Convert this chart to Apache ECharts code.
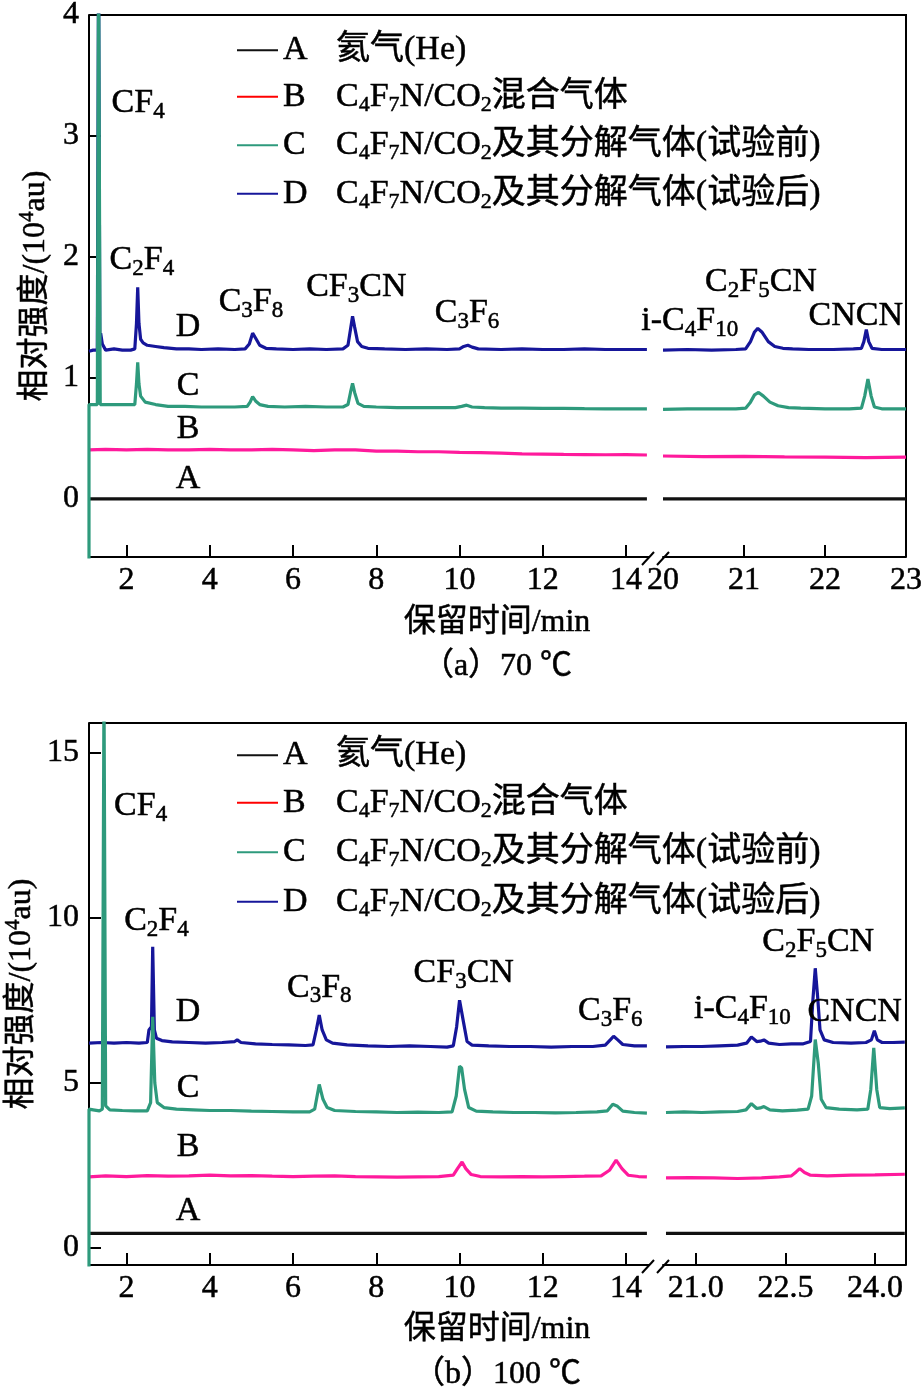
<!DOCTYPE html>
<html>
<head>
<meta charset="utf-8">
<script src="https://cdn.jsdelivr.net/npm/echarts@6/dist/echarts.min.js"></script>
<style>
html,body{margin:0;padding:0;background:#fff;}
#main{width:922px;height:1389px;}
</style>
</head>
<body>
<div id="main"></div>
<script>
var FONT = '"Liberation Serif","Noto Sans CJK SC",serif';

// 图例
var seriesKeys = ['A','B','C','D'];
var seriesTexts = ['氦气(He)','C4F7N/CO2混合气体','C4F7N/CO2及其分解气体(试验前)','C4F7N/CO2及其分解气体(试验后)'];
var seriesColors = ['#111111','#ff1a9c','#2e9a7c','#16169a'];
var legendColors = ['#111111','#ff0000','#2e9a7c','#16169a'];

// 刻度
var xTicksLeft = [2,4,6,8,10,12,14];
var xTicksRightA = [21,22];
var xLabelsRightA = [20,21,22,23];
var xTicksRightB = [21,22.5,24];
var yTicksA = [0,1,2,3,4];
var yTicksB = [0,5,10,15];

// (a) 70 ℃
var aA_left = [[1.1,0],[14.5,0]];
var aA_right = [[20,0],[23,0]];
var aB_left = [[1.1,0.405],[1.5,0.41],[2,0.405],[2.5,0.41],[3,0.405],[3.5,0.405],[4,0.41],[4.5,0.405],[5,0.405],[5.5,0.41],[6,0.405],[6.5,0.4],[7,0.405],[7.5,0.405],[8,0.395],[8.5,0.395],[9,0.39],[9.5,0.39],[10,0.385],[10.5,0.383],[11,0.378],[11.5,0.372],[12,0.37],[12.5,0.368],[13,0.367],[13.5,0.365],[14,0.366],[14.5,0.363]];
var aB_right = [[20,0.355],[20.5,0.35],[21,0.352],[21.5,0.348],[22,0.345],[22.5,0.342],[23,0.345]];
var aC_left = [[1.1,-0.6],[1.1,0.78],[1.2,0.78],[1.3,0.78],[1.33,4.5],[1.37,0.78],[1.5,0.78],[1.8,0.78],[2.1,0.78],[2.2,0.78],[2.24,0.95],[2.27,1.13],[2.3,0.95],[2.34,0.85],[2.45,0.8],[2.7,0.78],[3,0.765],[3.4,0.765],[3.8,0.76],[4.2,0.76],[4.6,0.76],[4.9,0.765],[4.97,0.8],[5.03,0.845],[5.1,0.81],[5.2,0.78],[5.4,0.765],[5.8,0.76],[6.3,0.765],[6.8,0.76],[7.2,0.76],[7.32,0.78],[7.38,0.88],[7.43,0.955],[7.48,0.88],[7.56,0.79],[7.7,0.765],[8,0.76],[8.5,0.755],[9,0.755],[9.5,0.755],[9.9,0.755],[10.05,0.765],[10.17,0.775],[10.3,0.76],[10.6,0.755],[11,0.75],[11.5,0.75],[12,0.748],[12.5,0.748],[13,0.746],[13.5,0.745],[14,0.745],[14.5,0.745]];
var aC_right = [[20,0.74],[20.3,0.745],[20.6,0.745],[20.9,0.745],[21.02,0.75],[21.08,0.8],[21.13,0.86],[21.18,0.88],[21.24,0.85],[21.32,0.8],[21.42,0.77],[21.55,0.755],[21.7,0.75],[22,0.745],[22.3,0.745],[22.45,0.75],[22.49,0.85],[22.53,0.99],[22.57,0.85],[22.61,0.76],[22.7,0.745],[23,0.745]];
var aD_left = [[1.1,1.22],[1.2,1.23],[1.3,1.23],[1.33,4.5],[1.36,1.3],[1.38,1.37],[1.42,1.28],[1.5,1.23],[1.7,1.24],[1.9,1.23],[2.1,1.23],[2.2,1.24],[2.24,1.45],[2.27,1.75],[2.3,1.45],[2.34,1.32],[2.4,1.29],[2.5,1.27],[2.7,1.26],[2.9,1.25],[3.2,1.24],[3.5,1.24],[3.8,1.235],[4.2,1.24],[4.6,1.235],[4.85,1.24],[4.95,1.28],[5.03,1.37],[5.1,1.33],[5.2,1.27],[5.35,1.245],[5.6,1.24],[6,1.235],[6.4,1.24],[6.8,1.235],[7.2,1.24],[7.32,1.27],[7.38,1.4],[7.43,1.51],[7.48,1.42],[7.55,1.3],[7.65,1.26],[7.8,1.245],[8.2,1.24],[8.7,1.235],[9.2,1.24],[9.7,1.235],[10,1.24],[10.1,1.26],[10.2,1.27],[10.3,1.255],[10.45,1.24],[11,1.235],[11.5,1.24],[12,1.235],[12.5,1.235],[13,1.24],[13.5,1.235],[14,1.235],[14.5,1.235]];
var aD_right = [[20,1.23],[20.3,1.235],[20.6,1.23],[20.9,1.235],[21.02,1.24],[21.08,1.3],[21.13,1.38],[21.17,1.41],[21.22,1.38],[21.3,1.3],[21.38,1.26],[21.48,1.245],[21.6,1.24],[21.8,1.235],[22.1,1.235],[22.35,1.24],[22.45,1.245],[22.48,1.3],[22.51,1.4],[22.54,1.3],[22.58,1.245],[22.7,1.235],[23,1.235]];
var aLabels_left = [[2.28,3.27,'CF4'],[2.37,1.975,'C2F4'],[3.48,1.42,'D'],[3.48,0.934,'C'],[3.48,0.579,'B'],[3.48,0.165,'A'],[4.99,1.624,'C3F8'],[7.52,1.748,'CF3CN'],[10.18,1.533,'C3F6']];
var aLabels_right = [[20.33,1.471,'i-C4F10'],[21.21,1.789,'C2F5CN'],[22.38,1.512,'CNCN']];

// (b) 100 ℃
var bA_left = [[1.1,0.44],[14.5,0.44]];
var bA_right = [[20.5,0.44],[24.5,0.44]];
var bB_left = [[1.1,2.15],[1.5,2.18],[2,2.16],[2.5,2.19],[3,2.17],[3.5,2.18],[4,2.2],[4.5,2.18],[5,2.19],[5.5,2.17],[6,2.16],[6.5,2.17],[7,2.18],[7.5,2.16],[8,2.15],[8.5,2.14],[9,2.15],[9.5,2.16],[9.85,2.2],[9.95,2.4],[10.06,2.6],[10.15,2.4],[10.28,2.22],[10.5,2.16],[11,2.15],[11.5,2.16],[12,2.15],[12.5,2.16],[13,2.17],[13.4,2.18],[13.6,2.35],[13.76,2.66],[13.9,2.4],[14.05,2.2],[14.3,2.16],[14.5,2.15]];
var bB_right = [[20.5,2.12],[20.9,2.13],[21.3,2.12],[21.7,2.1],[22.1,2.12],[22.4,2.15],[22.6,2.18],[22.68,2.3],[22.74,2.4],[22.82,2.28],[22.92,2.2],[23.2,2.18],[23.6,2.2],[24,2.21],[24.5,2.23]];
var bC_left = [[1.1,-0.6],[1.1,4.2],[1.2,4.18],[1.35,4.15],[1.42,4.2],[1.46,17],[1.5,4.3],[1.6,4.18],[1.9,4.16],[2.2,4.15],[2.5,4.15],[2.58,4.4],[2.63,7.0],[2.68,5.0],[2.74,4.4],[2.9,4.25],[3.2,4.2],[3.6,4.18],[4,4.16],[4.5,4.16],[5,4.14],[5.5,4.13],[6,4.12],[6.4,4.12],[6.52,4.2],[6.63,4.95],[6.72,4.5],[6.82,4.25],[7,4.16],[7.5,4.13],[8,4.12],[8.5,4.1],[9,4.11],[9.5,4.1],[9.82,4.12],[9.92,4.6],[10,5.5],[10.05,5.45],[10.12,4.8],[10.22,4.25],[10.4,4.14],[10.8,4.12],[11.3,4.1],[11.8,4.1],[12.3,4.09],[12.8,4.1],[13.3,4.12],[13.55,4.15],[13.68,4.35],[13.78,4.3],[13.92,4.14],[14.2,4.1],[14.5,4.08]];
var bC_right = [[20.5,4.1],[20.8,4.12],[21.1,4.1],[21.4,4.12],[21.7,4.13],[21.84,4.18],[21.93,4.37],[22.02,4.22],[22.08,4.24],[22.14,4.28],[22.24,4.18],[22.45,4.15],[22.7,4.17],[22.88,4.2],[22.94,4.6],[23,6.31],[23.05,5.6],[23.1,4.5],[23.18,4.25],[23.4,4.2],[23.7,4.18],[23.88,4.2],[23.93,4.8],[23.98,6.06],[24.03,4.8],[24.08,4.25],[24.25,4.22],[24.5,4.24]];
var bD_left = [[1.1,6.2],[1.4,6.22],[1.7,6.2],[2,6.22],[2.3,6.2],[2.5,6.22],[2.54,6.6],[2.6,6.7],[2.63,9.12],[2.67,6.6],[2.72,6.35],[2.85,6.28],[3.1,6.24],[3.5,6.22],[3.9,6.2],[4.3,6.22],[4.6,6.25],[4.66,6.3],[4.75,6.22],[5.1,6.18],[5.5,6.16],[5.9,6.15],[6.3,6.13],[6.48,6.15],[6.56,6.6],[6.63,7.05],[6.7,6.6],[6.8,6.3],[6.95,6.2],[7.3,6.15],[7.8,6.12],[8.3,6.1],[8.8,6.12],[9.3,6.1],[9.7,6.08],[9.85,6.12],[9.93,6.7],[10,7.5],[10.04,7.45],[10.1,6.8],[10.18,6.25],[10.3,6.14],[10.7,6.12],[11.2,6.1],[11.7,6.1],[12.2,6.08],[12.7,6.1],[13.2,6.1],[13.5,6.14],[13.62,6.3],[13.7,6.41],[13.8,6.3],[13.92,6.16],[14.2,6.12],[14.5,6.12]];
var bD_right = [[20.5,6.09],[20.8,6.1],[21.1,6.1],[21.4,6.12],[21.7,6.14],[21.85,6.2],[21.93,6.39],[22.02,6.25],[22.08,6.26],[22.14,6.3],[22.22,6.2],[22.4,6.16],[22.6,6.18],[22.8,6.18],[22.92,6.25],[22.96,7.5],[23,8.47],[23.04,7.6],[23.08,6.6],[23.15,6.3],[23.3,6.22],[23.6,6.2],[23.85,6.22],[23.94,6.3],[23.99,6.58],[24.04,6.3],[24.12,6.22],[24.3,6.22],[24.5,6.23]];
var bLabels_left = [[2.34,13.38,'CF4'],[2.72,9.9,'C2F4'],[3.48,7.13,'D'],[3.48,4.85,'C'],[3.48,3.04,'B'],[3.48,1.11,'A'],[6.63,7.88,'C3F8'],[10.1,8.31,'CF3CN'],[13.62,7.17,'C3F6']];
var bLabels_right = [[21.78,7.23,'i-C4F10'],[23.05,9.25,'C2F5CN'],[23.66,7.13,'CNCN']];

/**
 * 数字转下标的富文本
 */
function rich(s){
	return s.replace(/(\d+)|([^\d]+)/g, function(m, d, t){
		return d ? '{s|' + d + '}' : '{n|' + t + '}';
	});
}

var INK = {color: '#000', textBorderColor: '#000', textBorderWidth: 0.5};

var labelRich = {
	n: Object.assign({fontFamily: FONT, fontSize: 34, lineHeight: 40}, INK),
	s: Object.assign({fontFamily: FONT, fontSize: 23, lineHeight: 17, verticalAlign: 'bottom'}, INK)
};

var grids = [
	{left: 89, top: 15, width: 560, height: 542, outerBoundsMode: 'none'},
	{left: 663, top: 15, width: 243, height: 542, outerBoundsMode: 'none'},
	{left: 89, top: 723, width: 560, height: 542, outerBoundsMode: 'none'},
	{left: 663, top: 723, width: 243, height: 542, outerBoundsMode: 'none'}
];

function xAxisCfg(idx, min, max, tickVals, labelVals, fmt){
	return {
		type: 'value', gridIndex: idx, min: min, max: max,
		axisLine: {onZero: false, lineStyle: {color: '#000', width: 2}},
		axisTick: {inside: true, length: 12, customValues: tickVals, lineStyle: {color: '#000', width: 2}},
		axisLabel: Object.assign({customValues: labelVals, showMinLabel: true, showMaxLabel: true, margin: 8,
			fontFamily: FONT, fontSize: 32, formatter: fmt || function(v){ return v; }}, INK),
		splitLine: {show: false}
	};
}

function yAxisCfg(idx, min, max, ticks, show, gap){
	var cfg = {
		type: 'value', gridIndex: idx, min: min, max: max, show: show,
		axisLine: {show: true, onZero: false, lineStyle: {color: '#000', width: 2}},
		axisTick: {inside: true, length: 12, customValues: ticks, lineStyle: {color: '#000', width: 2}},
		axisLabel: Object.assign({customValues: ticks, margin: 10, fontFamily: FONT, fontSize: 32}, INK),
		splitLine: {show: false}
	};
	if(show){
		cfg.name = '{n|相对强度/(10}{sup|4}{n|au)}';
		cfg.nameLocation = 'middle';
		cfg.nameRotate = 90;
		cfg.nameGap = gap;
		cfg.nameMoveOverlap = false;
		cfg.nameTextStyle = {rich: {
			n: Object.assign({fontFamily: FONT, fontSize: 32, lineHeight: 38}, INK),
			sup: Object.assign({fontFamily: FONT, fontSize: 21, lineHeight: 22, verticalAlign: 'top'}, INK)
		}};
	}
	return cfg;
}

function lineSeries(key, data, idx){
	var i = seriesKeys.indexOf(key);
	var zs = {A: 2, B: 3, D: 4, C: 5};
	return {
		name: key, type: 'line', xAxisIndex: idx, yAxisIndex: idx, data: data,
		symbol: 'none', z: zs[key], animation: false,
		lineStyle: {color: seriesColors[i], width: 3.2},
		itemStyle: {color: seriesColors[i]}
	};
}

function labelSeries(data, idx){
	return {
		type: 'scatter', xAxisIndex: idx, yAxisIndex: idx, data: data,
		symbolSize: 0, silent: true, z: 10, animation: false,
		itemStyle: {opacity: 1},
		label: {show: true, position: 'inside', color: '#000',
			formatter: function(p){ return rich(p.data[2]); }, rich: labelRich}
	};
}

function legendCfg(top, gap){
	var items = [];
	for(var i = 0; i < seriesKeys.length; i++){
		items.push({name: seriesKeys[i], icon: 'rect', itemStyle: {color: legendColors[i]}});
	}
	return {
		orient: 'vertical', left: 232, top: top, itemWidth: 41, itemHeight: 2, itemGap: gap,
		selectedMode: false, data: items,
		formatter: function(name){
			return '{l|' + name + '}' + rich(seriesTexts[seriesKeys.indexOf(name)]);
		},
		textStyle: {color: '#000', fontFamily: FONT, fontSize: 34, rich: {
			l: Object.assign({fontFamily: FONT, fontSize: 34, lineHeight: 38, width: 53}, INK),
			n: Object.assign({fontFamily: FONT, fontSize: 34, lineHeight: 38}, INK),
			s: Object.assign({fontFamily: FONT, fontSize: 22, lineHeight: 17, verticalAlign: 'bottom'}, INK)
		}}
	};
}

function frameGraphic(top, bottom){
	var black = {stroke: '#000', lineWidth: 2};
	return [
		{type: 'polyline', shape: {points: [[89, top], [906, top], [906, bottom]]}, style: black, silent: true},
		{type: 'line', shape: {x1: 642, y1: bottom + 8, x2: 654, y2: bottom - 5}, style: black, silent: true},
		{type: 'line', shape: {x1: 657, y1: bottom + 8, x2: 669, y2: bottom - 5}, style: black, silent: true}
	];
}

function textGraphic(x, y, text){
	return {type: 'text', x: x, y: y, silent: true,
		style: {text: text, fill: '#000', stroke: '#000', lineWidth: 0.5, font: '32px ' + FONT, textAlign: 'center', textVerticalAlign: 'middle'}};
}

var chart = echarts.init(document.getElementById('main'), null, {renderer: 'canvas'});
var fmtB = function(v){ return v.toFixed(1); };
var option = {
	backgroundColor: '#fff',
	animation: false,
	grid: grids,
	legend: [legendCfg(28, 12), legendCfg(733, 13)],
	xAxis: [
		xAxisCfg(0, 1.1, 14.55, xTicksLeft, xTicksLeft),
		xAxisCfg(1, 20, 23, xTicksRightA, xLabelsRightA),
		xAxisCfg(2, 1.1, 14.55, xTicksLeft, xTicksLeft),
		xAxisCfg(3, 20.45, 24.52, xTicksRightB, xTicksRightB, fmtB)
	],
	yAxis: [
		yAxisCfg(0, -0.48, 4, yTicksA, true, 34),
		yAxisCfg(1, -0.48, 4, yTicksA, false),
		yAxisCfg(2, -0.52, 15.9, yTicksB, true, 48),
		yAxisCfg(3, -0.52, 15.9, yTicksB, false)
	],
	series: [
		lineSeries('A', aA_left, 0), lineSeries('B', aB_left, 0), lineSeries('D', aD_left, 0), lineSeries('C', aC_left, 0),
		lineSeries('A', aA_right, 1), lineSeries('B', aB_right, 1), lineSeries('D', aD_right, 1), lineSeries('C', aC_right, 1),
		lineSeries('A', bA_left, 2), lineSeries('B', bB_left, 2), lineSeries('D', bD_left, 2), lineSeries('C', bC_left, 2),
		lineSeries('A', bA_right, 3), lineSeries('B', bB_right, 3), lineSeries('D', bD_right, 3), lineSeries('C', bC_right, 3),
		labelSeries(aLabels_left, 0), labelSeries(aLabels_right, 1),
		labelSeries(bLabels_left, 2), labelSeries(bLabels_right, 3)
	],
	graphic: frameGraphic(15, 557).concat(frameGraphic(723, 1265)).concat([
		textGraphic(497, 623, '保留时间/min'),
		textGraphic(497, 667, '（a）70 ℃'),
		textGraphic(497, 1330, '保留时间/min'),
		textGraphic(497, 1375, '（b）100 ℃')
	])
};
chart.setOption(option);
</script>
</body>
</html>
